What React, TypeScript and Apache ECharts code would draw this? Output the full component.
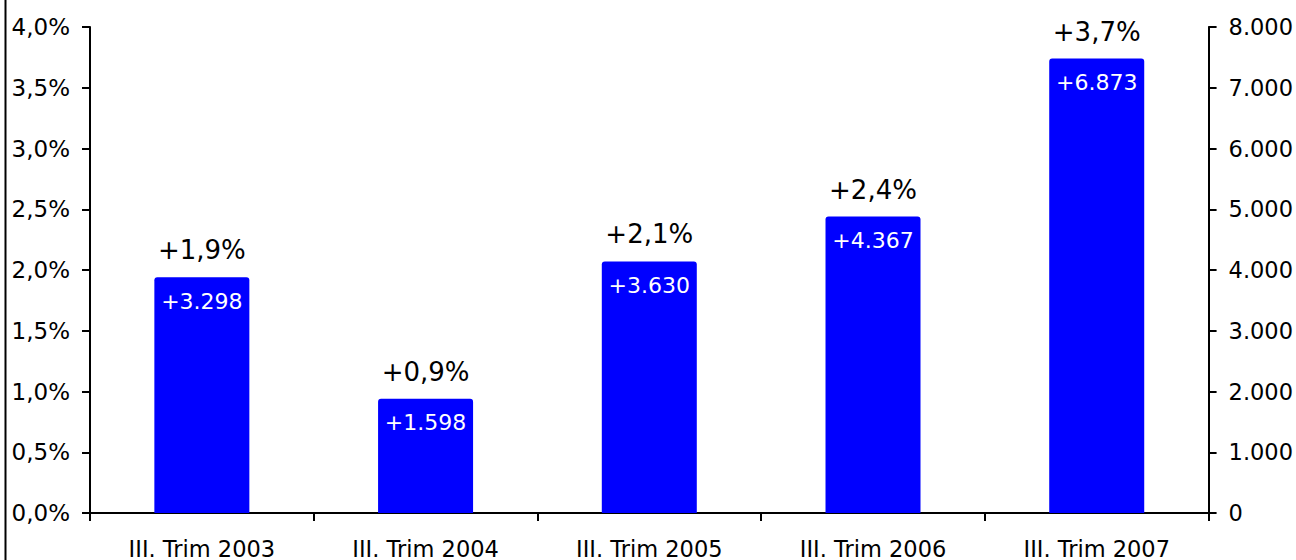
import React, { useEffect, useRef } from "react";
import * as echarts from "echarts";

const categories = ["III. Trim 2003", "III. Trim 2004", "III. Trim 2005", "III. Trim 2006", "III. Trim 2007"];
const pctValues = [1.94, 0.94, 2.07, 2.44, 3.74];
const pctLabels = ["+1,9%", "+0,9%", "+2,1%", "+2,4%", "+3,7%"];
const absLabels = ["+3.298", "+1.598", "+3.630", "+4.367", "+6.873"];

const FONT = "DejaVu Sans";

export default function App() {
  const ref = useRef<HTMLDivElement>(null);
  useEffect(() => {
    const chart = echarts.init(ref.current!, null, { renderer: "svg" });
    chart.setOption({
      animation: false,
      textStyle: { fontFamily: FONT },
      grid: { left: 90, right: 87, top: 27, bottom: 47 },
      graphic: [
        { type: "line", shape: { x1: 5.5, y1: 0, x2: 5.5, y2: 560 }, style: { stroke: "#000", lineWidth: 2 } },
      ],
      xAxis: {
        type: "category",
        data: categories,
        axisLine: { lineStyle: { color: "#000", width: 2 } },
        axisTick: { show: true, length: 8, lineStyle: { color: "#000", width: 2 } },
        axisLabel: { color: "#000", fontSize: 22.5, fontFamily: FONT, margin: 24 },
      },
      yAxis: [
        {
          type: "value",
          min: 0,
          max: 4,
          interval: 0.5,
          position: "left",
          splitLine: { show: false },
          axisLine: { show: true, lineStyle: { color: "#000", width: 2 } },
          axisTick: { show: true, length: 8, lineStyle: { color: "#000", width: 2 } },
          axisLabel: {
            color: "#000",
            fontSize: 23,
            fontFamily: FONT,
            margin: 20,
            formatter: (v: number) => v.toFixed(1).replace(".", ",") + "%",
          },
        },
        {
          type: "value",
          min: 0,
          max: 8000,
          interval: 1000,
          position: "right",
          splitLine: { show: false },
          axisLine: { show: true, lineStyle: { color: "#000", width: 2 } },
          axisTick: { show: true, length: 8, lineStyle: { color: "#000", width: 2 } },
          axisLabel: {
            color: "#000",
            fontSize: 22.5,
            fontFamily: FONT,
            margin: 20,
            formatter: (v: number) => (v >= 1000 ? Math.floor(v / 1000) + "." + String(v % 1000).padStart(3, "0") : String(v)),
          },
        },
      ],
      series: [
        {
          type: "bar",
          yAxisIndex: 0,
          data: pctValues,
          barWidth: 95,
          itemStyle: { color: "#0000FF", borderRadius: [3, 3, 0, 0] },
          label: {
            show: true,
            position: "insideTop",
            distance: 13,
            color: "#fff",
            fontSize: 22,
            fontFamily: FONT,
            formatter: (p: any) => absLabels[p.dataIndex],
          },
        },
        {
          type: "bar",
          yAxisIndex: 0,
          data: pctValues,
          barWidth: 95,
          barGap: "-100%",
          itemStyle: { color: "rgba(0,0,0,0)" },
          silent: true,
          label: {
            show: true,
            position: "top",
            distance: 14,
            color: "#000",
            fontSize: 26,
            fontFamily: FONT,
            formatter: (p: any) => pctLabels[p.dataIndex],
          },
        },
      ],
    });
    return () => chart.dispose();
  }, []);
  return <div ref={ref} style={{ width: 1296, height: 560, position: "absolute", left: 0, top: 0 }} />;
}
